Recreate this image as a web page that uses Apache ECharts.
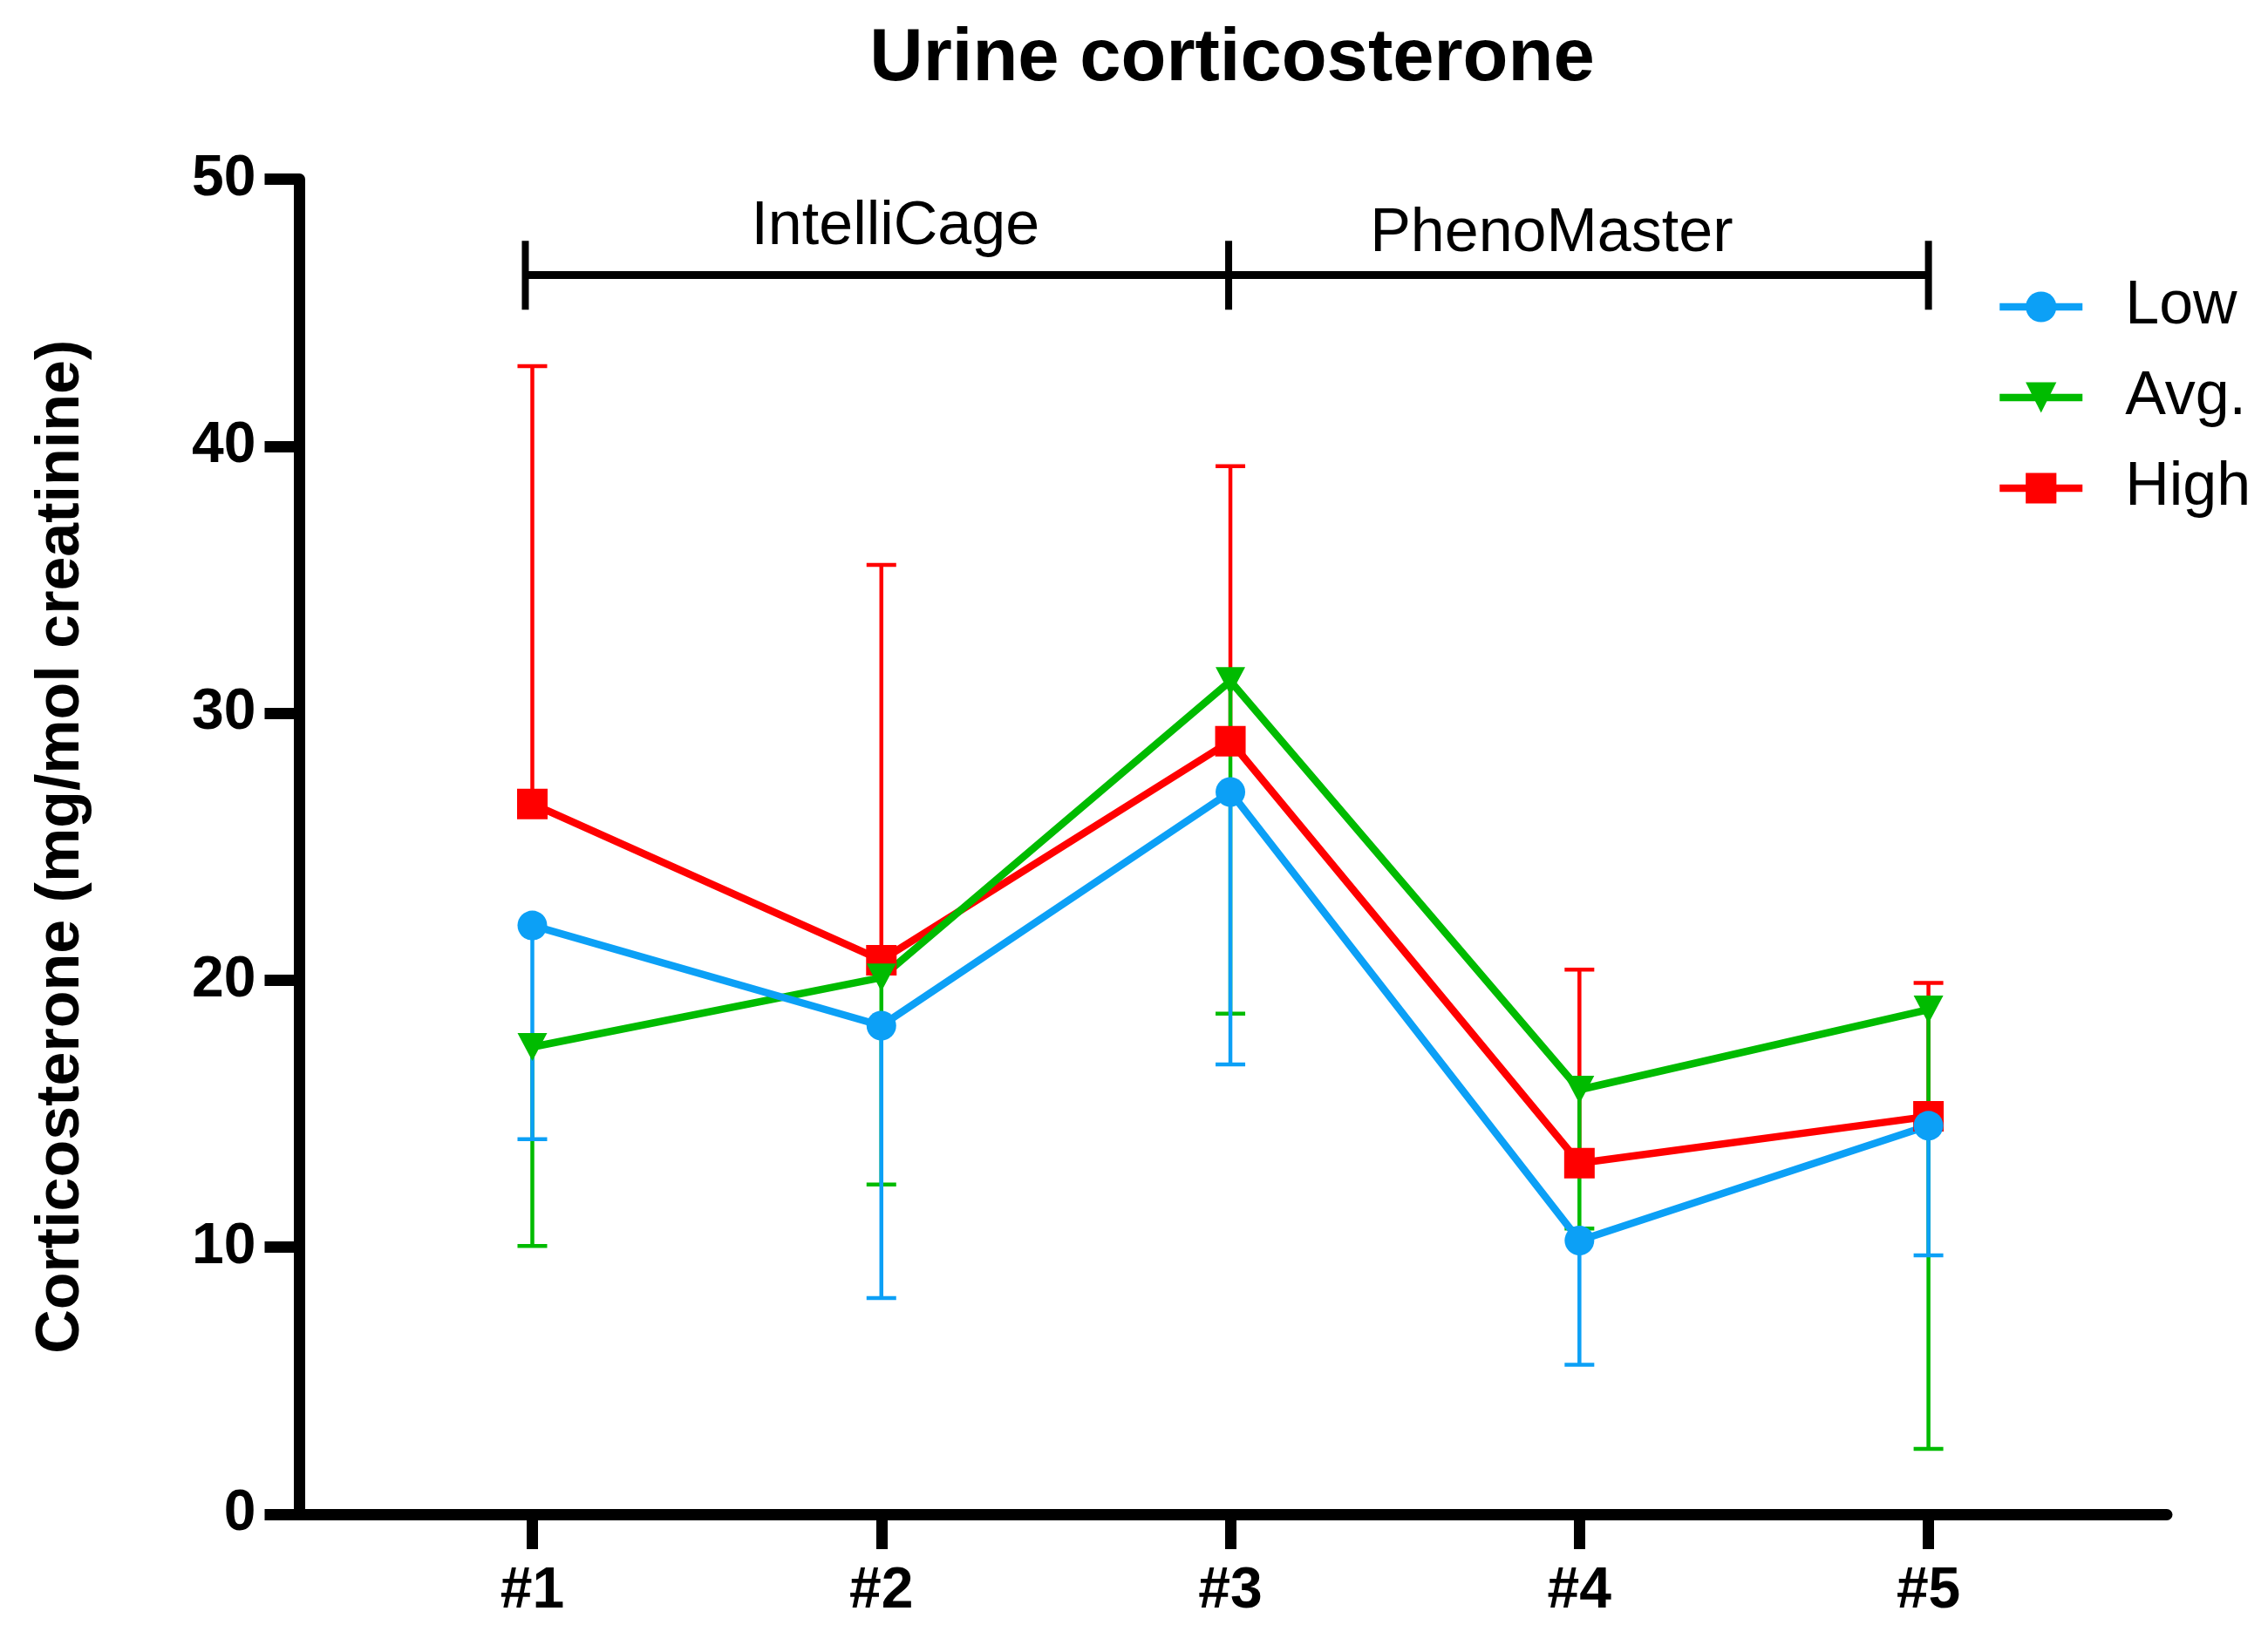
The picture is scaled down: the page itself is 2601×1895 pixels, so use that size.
<!DOCTYPE html>
<html>
<head>
<meta charset="utf-8">
<script src="https://cdn.jsdelivr.net/npm/echarts@6/dist/echarts.min.js"></script>
<style>
html,body{margin:0;padding:0;background:#fff;}
#c{width:2601px;height:1895px;}
</style>
</head>
<body>
<div id="c"></div>
<script>
// ---- data ----
var sessions = [1, 2, 3, 4, 5];
var sessionLabels = ['#1', '#2', '#3', '#4', '#5'];
var lowMean  = [22.05, 18.3, 27.05, 10.25, 14.55];
var lowErrEnd = [14.05, 8.1, 16.85, 5.6, 9.7];      // lower error bar ends
var avgMean  = [17.5, 20.1, 31.2, 15.9, 18.9];
var avgErrEnd = [10.05, 12.35, 18.75, 10.7, 2.45];  // lower error bar ends
var highMean = [26.6, 20.75, 28.95, 13.15, 14.9];
var highErrEnd = [43.0, 35.55, 39.25, 20.4, 19.9];  // upper error bar ends
var yTicks = [0, 10, 20, 30, 40, 50];
var phases = [
  {name: 'IntelliCage', from: 0.98, to: 2.995, labelX: 2.04, labelY: 48.19},
  {name: 'PhenoMaster', from: 2.995, to: 5.0, labelX: 3.92, labelY: 47.93}
];
var bracketY = 46.41, bracketTickTop = 47.69, bracketTickBottom = 45.11;

var FONT = 'Liberation Sans, Arial, Helvetica, sans-serif';
var BLUE = '#0CA0F6', GREEN = '#00BB00', RED = '#FF0000';

function pts(xs, ys) { return xs.map(function (x, i) { return [x, ys[i]]; }); }
function errData(xs, m, e) { return xs.map(function (x, i) { return [x, m[i], e[i]]; }); }

function errSeries(name, color, data) {
  return {
    type: 'custom', name: name + ' err', silent: true,
    data: data,
    encode: {x: 0, y: [1, 2]},
    renderItem: function (params, api) {
      var x = api.value(0);
      var p0 = api.coord([x, api.value(1)]);
      var p1 = api.coord([x, api.value(2)]);
      var hw = 17;
      var st = {stroke: color, lineWidth: 4.5};
      return {type: 'group', children: [
        {type: 'line', shape: {x1: p0[0], y1: p0[1], x2: p1[0], y2: p1[1]}, style: st},
        {type: 'line', shape: {x1: p1[0] - hw, y1: p1[1], x2: p1[0] + hw, y2: p1[1]}, style: st}
      ]};
    }
  };
}

function lineSeries(name, color, data, symbol, size, rotate) {
  return {
    type: 'line', name: name, data: data,
    symbol: symbol, symbolSize: size, symbolRotate: rotate || 0,
    showAllSymbol: true,
    lineStyle: {color: color, width: 8.5},
    itemStyle: {color: color, opacity: 1},
    emphasis: {disabled: true}
  };
}

var bracketSeries = {
  type: 'custom', name: 'phases', silent: true,
  data: [[0]],
  renderItem: function (params, api) {
    var children = [];
    var st = {stroke: '#000', lineWidth: 9};
    var left = api.coord([phases[0].from, bracketY]);
    var right = api.coord([phases[phases.length - 1].to, bracketY]);
    children.push({type: 'line', shape: {x1: left[0], y1: left[1], x2: right[0], y2: right[1]}, style: st});
    var tickXs = [phases[0].from];
    phases.forEach(function (p) { tickXs.push(p.to); });
    tickXs.forEach(function (tx) {
      var a = api.coord([tx, bracketTickTop]);
      var b = api.coord([tx, bracketTickBottom]);
      children.push({type: 'line', shape: {x1: a[0], y1: a[1], x2: b[0], y2: b[1]}, style: {stroke: '#000', lineWidth: 8}});
    });
    phases.forEach(function (p) {
      var c = api.coord([p.labelX, p.labelY]);
      children.push({type: 'text', x: c[0], y: c[1], style: {
        text: p.name, fill: '#000', font: 'normal 70px ' + FONT,
        textAlign: 'center', textVerticalAlign: 'middle', verticalAlign: 'middle', align: 'center'
      }});
    });
    return {type: 'group', children: children};
  }
};

var chart = echarts.init(document.getElementById('c'), null, {renderer: 'canvas'});
chart.setOption({
  animation: false,
  backgroundColor: '#ffffff',
  title: {
    text: 'Urine corticosterone', left: 1413, top: 26, textAlign: 'center', padding: 0,
    textStyle: {fontFamily: FONT, fontSize: 85, fontWeight: 'bold', color: '#000'}
  },
  legend: {
    orient: 'vertical', left: 2289, top: 317, padding: 0,
    data: ['Low', 'Avg.', 'High'],
    itemWidth: 95, itemHeight: 44, itemGap: 34,
    lineStyle: {width: 8.5},
    textStyle: {fontFamily: FONT, fontSize: 70, color: '#000', lineHeight: 70, padding: [0, 0, 0, 44]},
    selectedMode: false
  },
  grid: {left: 343.5, right: 116, top: 205.5, bottom: 158, containLabel: false},
  xAxis: {
    type: 'value', min: 0.333, max: 5.683,
    axisLine: {show: true, lineStyle: {color: '#000', width: 13}},
    axisTick: {show: true, customValues: sessions, length: 40, lineStyle: {color: '#000', width: 13}},
    axisLabel: {
      show: true, customValues: sessions, margin: 56,
      formatter: function (v) { return sessionLabels[sessions.indexOf(Math.round(v))] || ''; },
      fontFamily: FONT, fontSize: 66, fontWeight: 'bold', color: '#000'
    },
    splitLine: {show: false}
  },
  yAxis: {
    type: 'value', min: yTicks[0], max: yTicks[yTicks.length - 1], interval: 10,
    name: 'Corticosterone (mg/mol creatinine)', nameLocation: 'middle', nameGap: 238,
    nameTextStyle: {fontFamily: FONT, fontSize: 70, fontWeight: 'bold', color: '#000'},
    axisLine: {show: true, lineStyle: {color: '#000', width: 13}},
    axisTick: {show: true, length: 40, lineStyle: {color: '#000', width: 13}},
    axisLabel: {margin: 50, fontFamily: FONT, fontSize: 66, fontWeight: 'bold', color: '#000'},
    splitLine: {show: false}
  },
  series: [
    bracketSeries,
    errSeries('High', RED, errData(sessions, highMean, highErrEnd)),
    lineSeries('High', RED, pts(sessions, highMean), 'rect', 35),
    errSeries('Avg.', GREEN, errData(sessions, avgMean, avgErrEnd)),
    lineSeries('Avg.', GREEN, pts(sessions, avgMean), 'triangle', [34, 32], 180),
    errSeries('Low', BLUE, errData(sessions, lowMean, lowErrEnd)),
    lineSeries('Low', BLUE, pts(sessions, lowMean), 'circle', 34)
  ]
});
</script>
</body>
</html>
